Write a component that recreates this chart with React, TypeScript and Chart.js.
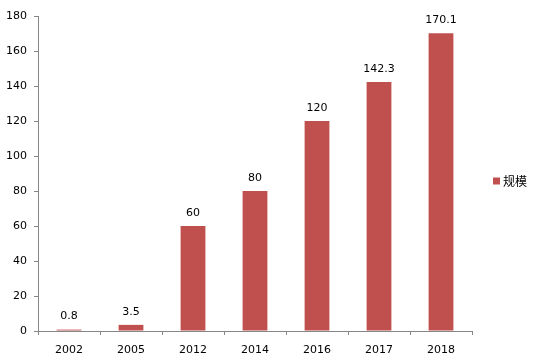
import React, { useEffect, useRef } from "react";
import { Chart, registerables } from "chart.js";

Chart.register(...registerables);

const categories = ["2002", "2005", "2012", "2014", "2016", "2017", "2018"];
const seriesName = "规模";
const values = [0.8, 3.5, 60, 80, 120, 142.3, 170.1];
const valueLabels = ["0.8", "3.5", "60", "80", "120", "142.3", "170.1"];

const BAR_COLOR = "#C0504D";
const AXIS_COLOR = "#868686";
const FONT = "DejaVu Sans";

const dataLabelPlugin = {
  id: "dataLabels",
  afterDatasetsDraw(chart: any) {
    const ctx = chart.ctx;
    const meta = chart.getDatasetMeta(0);
    ctx.save();
    ctx.font = `11px "${FONT}"`;
    ctx.fillStyle = "#000000";
    ctx.textAlign = "center";
    ctx.textBaseline = "middle";
    meta.data.forEach((bar: any, i: number) => {
      ctx.fillText(valueLabels[i], bar.x, bar.y - 13);
    });
    ctx.restore();
  },
};

const legendPlugin = {
  id: "customLegend",
  afterDraw(chart: any) {
    const ctx = chart.ctx;
    const area = chart.chartArea;
    const cy = (area.top + area.bottom) / 2 + 8;
    const x = area.right + 21;
    ctx.save();
    ctx.fillStyle = BAR_COLOR;
    ctx.fillRect(x, cy - 4, 7, 7);
    ctx.fillStyle = "#000000";
    ctx.font = `12px "Noto Sans CJK SC"`;
    ctx.textAlign = "left";
    ctx.textBaseline = "middle";
    ctx.fillText(seriesName, x + 10, cy);
    ctx.restore();
  },
};

export default function App() {
  const ref = useRef<HTMLCanvasElement | null>(null);
  useEffect(() => {
    if (!ref.current) return;
    const chart = new Chart(ref.current, {
      type: "bar",
      data: {
        labels: categories,
        datasets: [
          {
            label: seriesName,
            data: values,
            backgroundColor: BAR_COLOR,
            borderWidth: 0,
            categoryPercentage: 1,
            barPercentage: 0.4,
          },
        ],
      },
      options: {
        animation: false,
        responsive: false,
        maintainAspectRatio: false,
        layout: { padding: { top: 16, right: 62, left: 0, bottom: 0 } },
        plugins: {
          legend: { display: false },
          tooltip: { enabled: false },
        },
        scales: {
          x: {
            offset: true,
            grid: {
              display: true,
              offset: true,
              drawOnChartArea: false,
              drawTicks: true,
              tickLength: 4,
              color: AXIS_COLOR,
            },
            border: { display: true, color: AXIS_COLOR, width: 1 },
            ticks: {
              color: "#000000",
              font: { family: FONT, size: 11 },
              padding: 9,
              maxRotation: 0,
            },
            afterFit(scale: any) {
              scale.height = 28;
            },
          },
          y: {
            min: 0,
            max: 180,
            grid: {
              display: true,
              drawOnChartArea: false,
              drawTicks: true,
              tickLength: 4,
              color: AXIS_COLOR,
            },
            border: { display: true, color: AXIS_COLOR, width: 1 },
            ticks: {
              stepSize: 20,
              color: "#000000",
              font: { family: FONT, size: 11 },
              padding: 7,
            },
            afterFit(scale: any) {
              scale.width = 38;
            },
          },
        },
      },
      plugins: [dataLabelPlugin, legendPlugin],
    });
    return () => chart.destroy();
  }, []);
  return (
    <div style={{ position: "absolute", left: 0, top: 0, width: 534, height: 359, background: "#fff" }}>
      <canvas ref={ref} width={534} height={359} style={{ width: 534, height: 359 }} />
    </div>
  );
}
